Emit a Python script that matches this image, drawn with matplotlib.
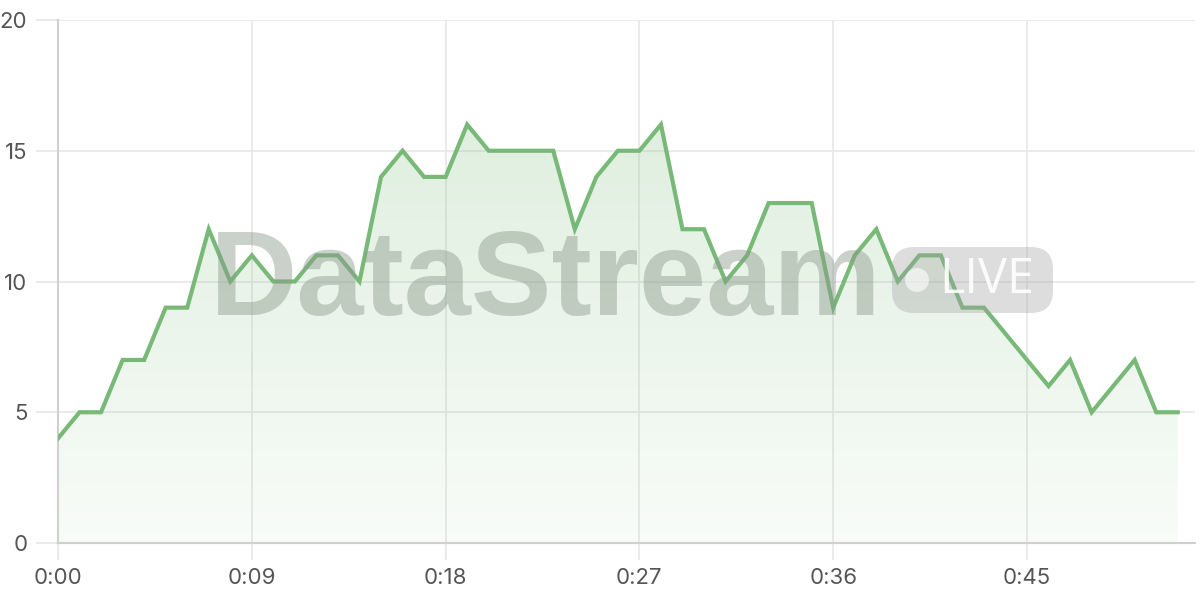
import numpy as np
import matplotlib.pyplot as plt
from matplotlib.patches import FancyBboxPatch, Circle
from matplotlib.colors import LinearSegmentedColormap
from matplotlib.transforms import IdentityTransform

# Values per second (0:00 .. 0:52)
seconds = list(range(53))
values = [4, 5, 5, 7, 7, 9, 9, 12, 10, 11, 10, 10, 11, 11, 10, 14, 15, 14, 14, 16,
          15, 15, 15, 15, 12, 14, 15, 15, 16, 12, 12, 10, 11, 13, 13, 13, 9, 11, 12, 10,
          11, 11, 9, 9, 8, 7, 6, 7, 5, 6, 7, 5, 5]
x_ticks = [0, 9, 18, 27, 36, 45]
x_labels = ["0:00", "0:09", "0:18", "0:27", "0:36", "0:45"]
y_ticks = [0, 5, 10, 15, 20]

line_color = "#78b978"

plt.rcParams['font.family'] = ['Inter', 'DejaVu Sans']
fig = plt.figure(figsize=(12, 6), dpi=100)
ax = fig.add_axes([58 / 1200, 57 / 600, 1137 / 1200, 523 / 600])

ax.set_xlim(0, 52.8)
ax.set_ylim(0, 20)

# gradient fill under the line
poly = ax.fill_between(seconds, values, 0, color="none", lw=0)
cmap = LinearSegmentedColormap.from_list("g", [(0.47, 0.73, 0.47, 0.05), (0.47, 0.73, 0.47, 0.28)])
grad = np.linspace(0, 1, 256).reshape(-1, 1)
img = ax.imshow(grad, cmap=cmap, aspect="auto", origin="lower",
                extent=[0, seconds[-1], 0, 20], zorder=1)
img.set_clip_path(poly.get_paths()[0], transform=ax.transData)

ax.plot(seconds, values, color=line_color, lw=3, zorder=3, solid_joinstyle="miter")

ax.set_xticks(x_ticks)
ax.set_xticklabels(x_labels)
ax.set_yticks(y_ticks)
ax.grid(True, color="#e8e8e8", lw=1.2, zorder=0)
ax.set_axisbelow(True)
for s in ["top", "right"]:
    ax.spines[s].set_visible(False)
for s in ["left", "bottom"]:
    ax.spines[s].set_color("#d0d0d0")
    ax.spines[s].set_linewidth(1.5)
ax.tick_params(axis="x", length=12, color="#e8e8e8", width=1.2, labelsize=16,
               labelcolor="#555555", pad=6)
ax.tick_params(axis="y", length=16, color="#e8e8e8", width=1.2, labelsize=16,
               labelcolor="#555555", pad=6)

# watermark
fig.text(210 / 1200, 1 - 315 / 600, "DataStream", family="Liberation Sans",
         fontweight="bold", fontsize=87, color="#8a9a8a", alpha=0.45,
         ha="left", va="baseline", zorder=10)
px = IdentityTransform()
badge = FancyBboxPatch((892, 287), 161, 66,
                       boxstyle="round,pad=0,rounding_size=22",
                       transform=px, facecolor="#a0a0a0", alpha=0.35,
                       edgecolor="none", zorder=9)
fig.patches.append(badge)
dot = Circle((917, 320), 12, transform=px, facecolor="white", alpha=0.6,
             edgecolor="none", zorder=11)
fig.patches.append(dot)
fig.text(987 / 1200, 1 - 280 / 600, "LIVE", family="Open Sans",
         fontsize=35, color="white", alpha=0.9, ha="center", va="center", zorder=11)

fig.savefig("out.png", dpi=100)
